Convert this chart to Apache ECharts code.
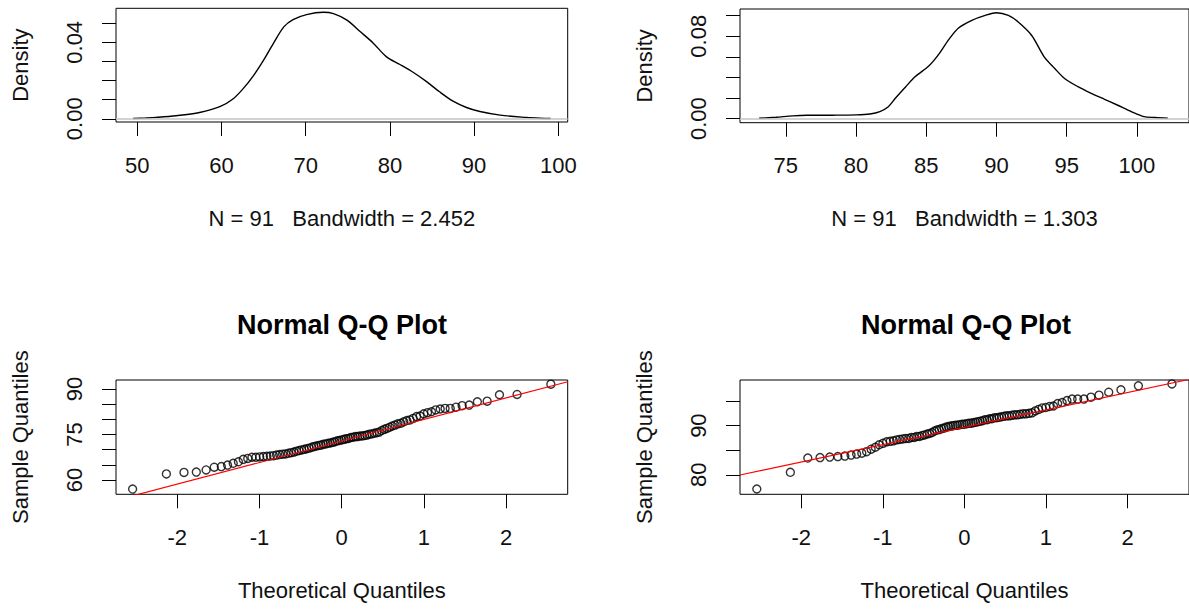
<!DOCTYPE html>
<html>
<head>
<meta charset="utf-8">
<title>Density and Normal Q-Q plots</title>
<script src="https://cdn.jsdelivr.net/npm/echarts@6/dist/echarts.min.js"></script>
<style>
  html, body { margin: 0; padding: 0; background: #fff; }
  #main { width: 1189px; height: 609px; }
</style>
</head>
<body>
<div id="main"></div>
<script>
// density of the first variable (N = 91, bw = 2.452)
const dens1X = [49.5, 51.0, 52.2, 54.6, 57.4, 59.8, 61.4, 62.6, 63.8, 65.0, 66.2, 67.4, 68.5, 70.1, 72.1,
  73.3, 74.9, 76.5, 78.0, 79.6, 81.2, 82.8, 84.4, 85.9, 87.5, 89.1, 90.7, 93.1, 96.2, 97.8, 99.1];
const dens1Y = [0.0001, 0.0004, 0.0007, 0.0016, 0.0033, 0.0063, 0.0105, 0.0159, 0.0226, 0.0307, 0.0397, 0.0481, 0.0519, 0.0545, 0.0557,
  0.0550, 0.0516, 0.0455, 0.0397, 0.0324, 0.0284, 0.0242, 0.0193, 0.0141, 0.0092, 0.0059, 0.0038, 0.0019, 0.0007, 0.0003, 0.0001];

// density of the second variable (N = 91, bw = 1.303)
const dens2X = [73.1, 74.3, 75.5, 76.5, 78.3, 80.0, 81.0, 81.7, 82.3, 82.8, 83.5, 84.2, 85.2, 85.9, 86.6, 87.3, 88.25,
  89.2, 90.0, 90.85, 91.55, 92.5, 93.4, 94.15, 94.85, 95.8, 96.75, 97.7, 98.6, 99.6, 100.5, 101.3, 102.2];
const dens2Y = [0.0003, 0.0013, 0.0026, 0.0032, 0.0033, 0.0036, 0.0045, 0.0068, 0.0115, 0.0197, 0.0303, 0.0406, 0.0513, 0.0626, 0.0768, 0.0881, 0.0955,
  0.1003, 0.1029, 0.1003, 0.0939, 0.0810, 0.0600, 0.0487, 0.0390, 0.0310, 0.0245, 0.0187, 0.0132, 0.0068, 0.0019, 0.0010, 0.0003];

// normal theoretical quantiles for n = 91
const theoQ = [-2.544, -2.133, -1.919, -1.769, -1.650, -1.551, -1.465, -1.389, -1.320, -1.257,
  -1.198, -1.143, -1.092, -1.044, -0.998, -0.953, -0.910, -0.869, -0.830, -0.792,
  -0.755, -0.719, -0.683, -0.649, -0.615, -0.582, -0.550, -0.518, -0.487, -0.456,
  -0.426, -0.396, -0.366, -0.337, -0.308, -0.279, -0.250, -0.222, -0.194, -0.166,
  -0.138, -0.110, -0.083, -0.055, -0.028, 0, 0.028, 0.055, 0.083, 0.110,
  0.138, 0.166, 0.194, 0.222, 0.250, 0.279, 0.308, 0.337, 0.366, 0.396,
  0.426, 0.456, 0.487, 0.518, 0.550, 0.582, 0.615, 0.649, 0.683, 0.719,
  0.755, 0.792, 0.830, 0.869, 0.910, 0.953, 0.998, 1.044, 1.092, 1.143,
  1.198, 1.257, 1.320, 1.389, 1.465, 1.551, 1.650, 1.769, 1.919, 2.133, 2.544];

// sorted sample values
const qq1Sample = [57.0, 62.0, 62.5, 62.6, 63.3, 64.2, 64.4, 64.9, 65.5, 66.0,
  66.8, 67.1, 67.5, 67.5, 67.6, 67.7, 67.8, 67.9, 68.0, 68.2,
  68.4, 68.5, 68.6, 68.8, 69.0, 69.2, 69.5, 69.7, 69.9, 70.1,
  70.3, 70.5, 70.8, 71.0, 71.2, 71.4, 71.5, 71.8, 71.9, 72.1,
  72.2, 72.4, 72.6, 72.9, 73.0, 73.2, 73.4, 73.6, 73.7, 74.0,
  74.1, 74.3, 74.3, 74.5, 74.5, 74.7, 74.8, 75.1, 75.2, 75.4,
  75.6, 75.8, 76.3, 76.7, 77.0, 77.4, 77.8, 78.1, 78.5, 78.7,
  79.2, 79.6, 79.8, 80.3, 80.9, 81.1, 81.8, 82.2, 82.5, 83.1,
  83.4, 83.6, 83.6, 84.0, 84.5, 84.7, 85.8, 86.0, 88.1, 88.2, 91.6];
const qq2Sample = [77.1, 80.5, 83.4, 83.5, 83.6, 83.7, 83.8, 84.0, 84.2, 84.4,
  84.7, 85.2, 85.6, 86.1, 86.4, 86.7, 86.8, 86.9, 87.1, 87.2,
  87.3, 87.4, 87.4, 87.6, 87.6, 87.8, 87.8, 88.0, 88.1, 88.3,
  88.4, 88.6, 88.9, 89.1, 89.2, 89.4, 89.5, 89.7, 89.8, 89.9,
  90.0, 90.1, 90.1, 90.2, 90.3, 90.3, 90.4, 90.5, 90.5, 90.6,
  90.7, 90.8, 90.9, 91.0, 91.2, 91.2, 91.4, 91.4, 91.6, 91.6,
  91.7, 91.8, 91.9, 92.0, 92.0, 92.1, 92.2, 92.2, 92.3, 92.4,
  92.4, 92.5, 92.6, 93.0, 93.3, 93.6, 93.7, 93.9, 94.0, 94.5,
  94.7, 95.1, 95.4, 95.4, 95.4, 95.8, 96.2, 96.8, 97.3, 98.1, 98.5];

// qqline end points (at the edges of the x range)
const qqLineX = [-2.75, 2.75];
const qq1LineY = [53.3, 92.4];
const qq2LineY = [79.95, 99.39];

// ticks and labels
const dens1XTicks = [50, 60, 70, 80, 90, 100];
const dens1YTicks = [0, 0.01, 0.02, 0.03, 0.04, 0.05];
const dens1YLabels = [0, 0.04];
const dens2XTicks = [75, 80, 85, 90, 95, 100];
const dens2YTicks = [0, 0.02, 0.04, 0.06, 0.08, 0.1];
const dens2YLabels = [0, 0.08];
const qqXTicks = [-2, -1, 0, 1, 2];
const qq1YTicks = [60, 65, 70, 75, 80, 85, 90];
const qq1YLabels = [60, 75, 90];
const qq2YTicks = [80, 85, 90, 95];
const qq2YLabels = [80, 90];

const dens1Label = 'N = 91   Bandwidth = 2.452';
const dens2Label = 'N = 91   Bandwidth = 1.303';
const qqTitle = 'Normal Q-Q Plot';

const FONT = '"Liberation Sans", Arial, sans-serif';
const nameStyle = {fontSize: 22, fontFamily: FONT, color: '#111'};

function zip(xs, ys) {
  return xs.map((x, i) => [x, ys[i]]);
}

function makeX(grid, min, max, ticks, name) {
  return {
    type: 'value', gridIndex: grid, min: min, max: max,
    axisLine: {show: false, onZero: false},
    splitLine: {show: false},
    axisTick: {show: true, length: 14, customValues: ticks, lineStyle: {color: '#000', width: 1}},
    axisLabel: {customValues: ticks, margin: 32, fontSize: 22, fontFamily: FONT, color: '#111'},
    name: name, nameLocation: 'middle', nameGap: 85, nameTextStyle: nameStyle
  };
}

function makeY(grid, min, max, ticks, labels, digits, name) {
  return {
    type: 'value', gridIndex: grid, min: min, max: max,
    axisLine: {show: false, onZero: false},
    splitLine: {show: false},
    axisTick: {show: true, length: 14, customValues: ticks, lineStyle: {color: '#000', width: 1}},
    axisLabel: {
      customValues: labels, rotate: 90, margin: 31, fontSize: 22, fontFamily: FONT, color: '#111',
      formatter: v => v.toFixed(digits)
    },
    name: name, nameLocation: 'middle', nameGap: 85, nameTextStyle: nameStyle
  };
}

const gridBox = {show: true, borderColor: '#000', borderWidth: 1, backgroundColor: 'transparent'};

function densSeries(idx, xs, ys) {
  return {
    type: 'line', xAxisIndex: idx, yAxisIndex: idx,
    data: zip(xs, ys), showSymbol: false, smooth: 0.3,
    lineStyle: {color: '#000', width: 1.4},
    markLine: {
      silent: true, symbol: 'none', animation: false,
      label: {show: false},
      lineStyle: {color: '#c4c4c4', width: 1.5, type: 'solid'},
      data: [{yAxis: 0}]
    }
  };
}

function qqPoints(idx, ys) {
  return {
    type: 'scatter', xAxisIndex: idx, yAxisIndex: idx,
    data: zip(theoQ, ys), symbol: 'circle', symbolSize: 8,
    itemStyle: {color: 'rgba(0,0,0,0)', borderColor: '#000', borderWidth: 1.4},
    clip: false
  };
}

function qqLine(idx, ys) {
  return {
    type: 'line', xAxisIndex: idx, yAxisIndex: idx,
    data: zip(qqLineX, ys), showSymbol: false, clip: true,
    lineStyle: {color: '#ff0000', width: 1.2}, z: 3
  };
}

const chart = echarts.init(document.getElementById('main'), null, {renderer: 'svg'});
chart.setOption({
  animation: false,
  backgroundColor: '#fff',
  grid: [
    Object.assign({left: 116, top: 8.3, width: 451.7, height: 113.7}, gridBox),
    Object.assign({left: 740, top: 9, width: 451.7, height: 113.7}, gridBox),
    Object.assign({left: 116, top: 380, width: 451.7, height: 114.3}, gridBox),
    Object.assign({left: 740, top: 380, width: 451.7, height: 114.3}, gridBox)
  ],
  xAxis: [
    makeX(0, 47.47, 101.12, dens1XTicks, dens1Label),
    makeX(1, 71.74, 103.71, dens2XTicks, dens2Label),
    makeX(2, -2.746, 2.749, qqXTicks, 'Theoretical Quantiles'),
    makeX(3, -2.75, 2.753, qqXTicks, 'Theoretical Quantiles')
  ],
  yAxis: [
    makeY(0, -0.0017, 0.0578, dens1YTicks, dens1YLabels, 2, 'Density'),
    makeY(1, -0.0040, 0.1065, dens2YTicks, dens2YLabels, 2, 'Density'),
    makeY(2, 55.27, 92.97, qq1YTicks, qq1YLabels, 0, 'Sample Quantiles'),
    makeY(3, 76.02, 99.29, qq2YTicks, qq2YLabels, 0, 'Sample Quantiles')
  ],
  graphic: [
    {type: 'text', x: 342, y: 325, style: {text: qqTitle, font: 'bold 27px ' + FONT, fill: '#000',
      align: 'center', verticalAlign: 'middle', textAlign: 'center', textVerticalAlign: 'middle'}},
    {type: 'text', x: 966, y: 325, style: {text: qqTitle, font: 'bold 27px ' + FONT, fill: '#000',
      align: 'center', verticalAlign: 'middle', textAlign: 'center', textVerticalAlign: 'middle'}}
  ],
  series: [
    densSeries(0, dens1X, dens1Y),
    densSeries(1, dens2X, dens2Y),
    qqPoints(2, qq1Sample),
    qqLine(2, qq1LineY),
    qqPoints(3, qq2Sample),
    qqLine(3, qq2LineY)
  ]
});
</script>
</body>
</html>
